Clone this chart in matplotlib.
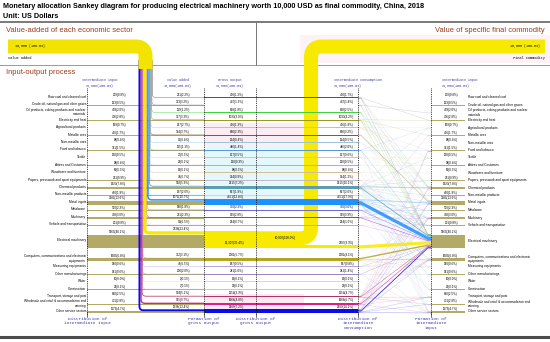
import matplotlib
matplotlib.use("Agg")
import matplotlib.pyplot as plt
from matplotlib.patches import Rectangle, Polygon
import numpy as np

plt.rcParams['font.family'] = ['Liberation Sans', 'DejaVu Sans']

# ---- data ----
sectors = [
    "Raw coal and cleaned coal",
    "Crude oil, natural gas and other gases",
    "Oil products, coking products and nuclear\nmaterials",
    "Electricity and heat",
    "Agricultural products",
    "Metallic ores",
    "Non-metallic ores",
    "Food and tobacco",
    "Textile",
    "Attires and Costumes",
    "Woodware and furniture",
    "Papers, presswork and sport equipments",
    "Chemical products",
    "Non-metallic products",
    "Metal ingots",
    "Metalware",
    "Machinery",
    "Vehicle and transportation",
    "Electrical machinery",
    "Computers, communications and electronic\nequipments",
    "Measuring equipments",
    "Other manufacturings",
    "Water",
    "Construction",
    "Transport, storage and post",
    "Wholesale and retail & accommodation and\ncatering",
    "Other service sectors",
]
ii_vals = [209, 123, 499, 706, 169, 426, 88, 371, 130, 98, 69, 231, 1923, 460,
           3380, 570, 738, 201, 9969, 1689, 140, 141, 10, 22, 630, 701, 1173]
va_vals = [221, 323, 119, 327, 267, 374, 36, 115, 27, 22, 19, 74, 592, 197,
           1070, 180, 231, 54, 2338, 312, 47, 200, 9, 7, 524, 965, 1336]
go_vals = [430, 447, 618, 1033, 436, 800, 124, 486, 157, 120, 88, 304, 2515, 657,
           4451, 750, 969, 254, 12307, 2001, 187, 341, 19, 29, 1154, 1666, 2509]
ic_vals = [430, 447, 618, 1033, 436, 800, 124, 486, 157, 120, 88, 304, 2515, 657,
           4451, 750, 969, 254, 2307, 2001, 187, 341, 19, 29, 1154, 1666, 2509]
ii_total = 24806
va_total = 10000
go_total = 34806
final_val = 10000
target = 18  # electrical machinery

sector_colors = ["#555555", "#8a7f95", "#3fd43f", "#9a9a1a", "#f2a6c0", "#7a6220",
                 "#9fc4d8", "#5a96dc", "#b8d890", "#b0b0b0", "#d2bf9a", "#c4b8c8",
                 "#5e9cb2", "#9eeaf2", "#1e90ff", "#6a6ad8", "#9a30d0", "#d890ec",
                 "#f7ea00", "#b4a424", "#b6a6e4", "#9a88c8", "#c8d8f0", "#e8b8c8",
                 "#b4306a", "#d8208c", "#0a0aee"]
olive = "#b3aa68"

# intermediate flows (supplier -> user), USD
flow_src = [0, 1, 2, 3, 7, 8, 11, 12, 13, 14, 15, 16, 17, 18, 19, 20, 21, 24, 25, 26,
            0, 0, 0, 1, 1, 2, 2, 2, 2, 3, 3, 3, 3, 3, 4, 4, 4, 5, 6, 6,
            7, 7, 7, 7, 8, 8, 9, 9, 10, 10, 10, 11, 11, 11,
            12, 12, 12, 12, 12, 12, 12, 12, 12, 12, 12,
            13, 13, 13, 13, 13, 13, 14, 14, 14, 14, 14, 14, 14,
            15, 15, 15, 15, 16, 16, 16, 16, 17, 17, 19, 19, 19, 19,
            20, 20, 20, 21, 21, 22, 22, 23,
            24, 24, 24, 24, 24, 24, 24, 25, 25, 25, 25, 25, 25, 25,
            26, 26, 26, 26, 26, 26, 26, 26]
flow_dst = [18, 18, 18, 18, 18, 18, 18, 18, 18, 18, 18, 18, 18, 18, 18, 18, 18, 18, 18, 18,
            3, 14, 12, 2, 12, 12, 24, 14, 26, 3, 5, 12, 14, 26, 4, 7, 8, 14, 12, 13,
            4, 7, 25, 26, 8, 9, 9, 26, 10, 23, 26, 11, 12, 26,
            4, 8, 11, 12, 13, 14, 16, 17, 19, 21, 26,
            13, 14, 19, 23, 26, 16, 14, 15, 16, 17, 19, 20, 21,
            15, 16, 17, 23, 5, 14, 16, 17, 17, 24, 16, 19, 20, 26,
            16, 19, 20, 21, 26, 7, 26, 26,
            7, 12, 14, 16, 19, 24, 25, 7, 12, 14, 16, 19, 24, 26,
            7, 12, 14, 16, 19, 24, 25, 26]
flow_val = [40, 20, 110, 250, 15, 50, 90, 700, 180, 2600, 330, 350, 40, 2307, 1000, 80, 100, 350, 500, 800,
            250, 80, 40, 380, 40, 150, 200, 60, 50, 200, 40, 150, 250, 100, 50, 320, 50, 780, 30, 80,
            40, 150, 30, 250, 40, 60, 20, 60, 20, 10, 20, 100, 20, 80,
            60, 60, 50, 900, 60, 60, 40, 40, 200, 40, 200,
            100, 60, 60, 10, 60, 40, 700, 300, 350, 100, 100, 30, 40,
            60, 150, 40, 10, 30, 60, 200, 60, 100, 50, 20, 700, 40, 80,
            20, 20, 20, 80, 60, 3, 5, 10,
            30, 120, 200, 40, 80, 50, 50, 60, 180, 250, 100, 150, 30, 100,
            40, 250, 350, 100, 300, 100, 200, 370]

# ---- layout ----
S = 0.0014           # pixels per USD
X_II, X_VA, X_GO, X_IC, X_IN = 87, 204, 256, 358, 431
N = len(sectors)


def row_y(i):
    return 98 + 7.5 * i + (8.5 if i >= 18 else 0) + (10.5 if i >= 19 else 0)


def fmt(v, total):
    s = f"{v:,}" if v >= 10000 else str(v)
    return f"{s}({100 * v / total:.1f}%)"


def rounded(pts, r, n=14):
    out = [pts[0]]
    for a, p, b in zip(pts[:-2], pts[1:-1], pts[2:]):
        a, p, b = np.array(a, float), np.array(p, float), np.array(b, float)
        la, lb = np.linalg.norm(a - p), np.linalg.norm(b - p)
        rr = min(r, la / 2, lb / 2)
        p1 = p + (a - p) / la * rr
        p2 = p + (b - p) / lb * rr
        t = np.linspace(0, 1, n)[:, None]
        out.extend(((1 - t) ** 2 * p1 + 2 * (1 - t) * t * p + t ** 2 * p2).tolist())
    out.append(pts[-1])
    return np.array(out, float)


def thick(ax, pts, w, color, r=6, z=3, alpha=1.0):
    p = rounded(pts, r)
    ax.plot(p[:, 0], p[:, 1], lw=max(w, 0.4) * 0.72, color=color, alpha=alpha,
            solid_capstyle='butt', solid_joinstyle='round', zorder=z)


fig = plt.figure(figsize=(5.5, 3.42), dpi=100)
ax = fig.add_axes([0, 0, 1, 1])
ax.set_xlim(0, 550)
ax.set_ylim(342, 0)
ax.axis('off')

mono = 'Liberation Mono'
blue_txt = '#3a3aa6'
brown = '#9a3b1b'

# titles and frame
ax.text(3, 7, "Monetary allocation Sankey diagram for producing electrical machinery worth 10,000 USD "
        "as final commodity, China, 2018", fontsize=5.25, fontweight='bold', va='center')
ax.text(3, 16, "Unit: US Dollars", fontsize=5.25, fontweight='bold', va='center')
ax.plot([0, 550], [22, 22], color='#555555', lw=1.1)
ax.plot([0, 550], [65, 65], color='#9a9a9a', lw=0.7)
ax.plot([X_GO, X_GO], [22, 65], color='#777777', lw=0.7)
ax.plot([0, 550], [337, 337], color='#4d4d4d', lw=2.2)
ax.add_patch(Rectangle((300, 35), 250, 28, color='#fdf2f6', zorder=0, lw=0))
ax.text(6, 30, "Value-added of each economic sector", fontsize=5.4, color=brown, va='center')
ax.text(545, 30, "Value of specific final commodity", fontsize=5.4, color=brown, va='center', ha='right')
ax.text(6, 72, "Input-output process", fontsize=5.4, color=brown, va='center')

ii_h = [max(v * S, 0.45) for v in ii_vals]
va_h = [max(v * S, 0.35) for v in va_vals]
go_top = [row_y(i) - ii_h[i] / 2 - va_h[i] for i in range(N)]

# light tints behind gross output distribution
ax.add_patch(Rectangle((205, row_y(3) + 2), 99, row_y(6) - row_y(3), color='#fcecf3', zorder=0, lw=0))
ax.add_patch(Rectangle((205, row_y(6) + 2), 99, row_y(13) - row_y(6) + 4, color='#e4f8fb', zorder=0, lw=0))
ax.add_patch(Rectangle((205, row_y(24) - 3), 99, row_y(26) - row_y(24) + 2, color='#fbe8f0', zorder=0, lw=0))

# intermediate input (left) as olive bars
for i in range(N):
    ax.add_patch(Rectangle((X_II, row_y(i) - ii_h[i] / 2), X_VA - X_II, ii_h[i],
                           color=olive, lw=0, zorder=2))

# gross output / intermediate consumption bands
for i in range(N):
    c = sector_colors[i]
    if i == target:
        ax.add_patch(Rectangle((X_VA, go_top[i]), X_GO - X_VA, go_vals[i] * S, color=c, lw=0, zorder=2))
    else:
        ax.add_patch(Rectangle((X_VA, go_top[i]), X_IC - X_VA, max(go_vals[i] * S, 0.6),
                               color=c, lw=0, zorder=3))

# the 10,000 USD of final commodity
fin_w = final_val * S
fin_top = go_top[target]
fin_y = fin_top + fin_w / 2
ic_top = list(go_top)
ic_top[target] = fin_top + fin_w
ax.add_patch(Rectangle((X_GO, ic_top[target]), X_IC - X_GO, ic_vals[target] * S,
                       color=sector_colors[target], lw=0, zorder=3))
thick(ax, [(X_GO, fin_y), (311, fin_y), (311, 46.5), (545, 46.5)], fin_w, sector_colors[target], r=11, z=2.5)

# value added strands from the top band
left = 138.5
strand_x = {}
for i in range(N - 1, -1, -1):
    w = va_vals[i] * S
    strand_x[i] = left + w / 2
    left += w
for i in range(N):
    yt = row_y(i) - ii_h[i] / 2 - va_h[i] / 2
    thick(ax, [(strand_x[i], 60), (strand_x[i], yt), (X_VA, yt)], va_h[i], sector_colors[i], r=4, z=4)
band_x = 138.5 + sum(va_vals) * S / 2
thick(ax, [(8, 46.5), (band_x, 46.5), (band_x, 69)], va_total * S, '#f2e300', r=10, z=5)

# intermediate input (right) as olive bars
for i in range(N):
    ax.add_patch(Rectangle((X_IN, row_y(i) - ii_h[i] / 2), 34, ii_h[i], color=olive, lw=0, zorder=2))

# supplier -> user flows
order_s = sorted(range(len(flow_val)), key=lambda k: (flow_src[k], flow_dst[k]))
order_d = sorted(range(len(flow_val)), key=lambda k: (flow_dst[k], flow_src[k]))
a0 = {}
off = {i: ic_top[i] for i in range(N)}
for k in order_s:
    a0[k] = off[flow_src[k]]
    off[flow_src[k]] += flow_val[k] * S
a1 = {}
off = {i: row_y(i) - ii_h[i] / 2 for i in range(N)}
for k in order_d:
    a1[k] = off[flow_dst[k]]
    off[flow_dst[k]] += flow_val[k] * S
for strong in (False, True):
    for k in range(len(flow_val)):
        if (flow_dst[k] == target) != strong:
            continue
        w = max(flow_val[k] * S, 0.35)
        y0, y1 = a0[k], a1[k]
        xs = [X_IC, X_IC + 3, X_IN - 3, X_IN, X_IN, X_IN - 3, X_IC + 3, X_IC]
        ys = [y0, y0, y1, y1, y1 + w, y1 + w, y0 + w, y0 + w]
        ax.add_patch(Polygon(list(zip(xs, ys)), closed=True, lw=0,
                             color=sector_colors[flow_src[k]],
                             alpha=0.85 if strong else 0.35, zorder=3 if strong else 2.7))

# dotted column lines
for x in (X_II, X_VA, X_GO, X_IC, X_IN):
    ax.plot([x, x], [88, 315], color='black', lw=0.6, ls=(0, (1, 1.2)), zorder=6)
    ax.plot([x, x], [312, 317], color='#333333', lw=0.5, zorder=6)

# top band labels
ax.text(15, 46.5, "10,000 (100.0%)", fontsize=2.3, family=mono, va='center', zorder=7)
ax.text(8, 58, "Value added", fontsize=2.6, family=mono, va='center')
ax.text(540, 46.5, "10,000 (100.0%)", fontsize=2.3, family=mono, va='center', ha='right', zorder=7)
ax.text(545, 58, "Final commodity", fontsize=2.6, family=mono, va='center', ha='right')

# column headers
hdr = dict(fontsize=2.4, family=mono, color=blue_txt, va='center')
ax.text(100, 80, "Intermediate input", ha='center', **hdr)
ax.text(100, 86, f"{ii_total:,}(100.0%)", ha='center', **hdr)
ax.text(178, 80, "Value added", ha='center', **hdr)
ax.text(178, 86, f"{va_total:,}(100.0%)", ha='center', **hdr)
ax.text(230, 80, "Gross output", ha='center', **hdr)
ax.text(230, 86, f"{go_total:,}(100.0%)", ha='center', **hdr)
ax.text(334, 80, "Intermediate consumption", ha='left', **hdr)
ax.text(334, 86, f"{ii_total:,}(100.0%)", ha='left', **hdr)
ax.text(442, 80, "Intermediate input", ha='left', **hdr)
ax.text(442, 86, f"{ii_total:,}(100.0%)", ha='left', **hdr)

# bottom stage names
stage = dict(fontsize=3.2, family=mono, color=blue_txt, va='top', ha='center', linespacing=1.1)
ax.text(X_II + 1, 317, "Distribution of\nintermediate input", **stage)
ax.text(X_VA, 317, "Formation of\ngross output", **stage)
ax.text(X_GO, 317, "Distribution of\ngross output", **stage)
ax.text(X_IC, 317, "Distribution of\nintermediate\nconsumption", **stage)
ax.text(X_IN, 317, "Formation of\nintermediate\ninput", **stage)

# per-sector labels and values
lab = dict(fontsize=2.3, va='center', zorder=7)
val = dict(fontsize=2.2, va='bottom', ha='right', zorder=7)
for i in range(N):
    y = row_y(i)
    ax.text(X_II - 1, y - 1, sectors[i], ha='right', **lab)
    ax.text(X_IN + 37, y - 0.5, sectors[i], ha='left', **lab)
    ax.text(126, y - ii_h[i] / 2 - 0.6, fmt(ii_vals[i], ii_total), **val)
    ax.text(458, y - ii_h[i] / 2 - 0.6, fmt(ii_vals[i], ii_total), **val)
    ax.text(190, go_top[i] - 0.6, fmt(va_vals[i], va_total), **val)
    if i == target:
        ax.text(244, row_y(i) + 1.5, fmt(go_vals[i], go_total), fontsize=2.2, ha='right', va='center', zorder=7)
        ax.text(285, fin_y, fmt(final_val, final_val), fontsize=2.2, ha='center', va='center', zorder=7)
    else:
        ax.text(244, go_top[i] - 0.6, fmt(go_vals[i], go_total), **val)
    ax.text(354, ic_top[i] - 0.6, fmt(ic_vals[i], ii_total), **val)

fig.savefig("out.png", dpi=100)
